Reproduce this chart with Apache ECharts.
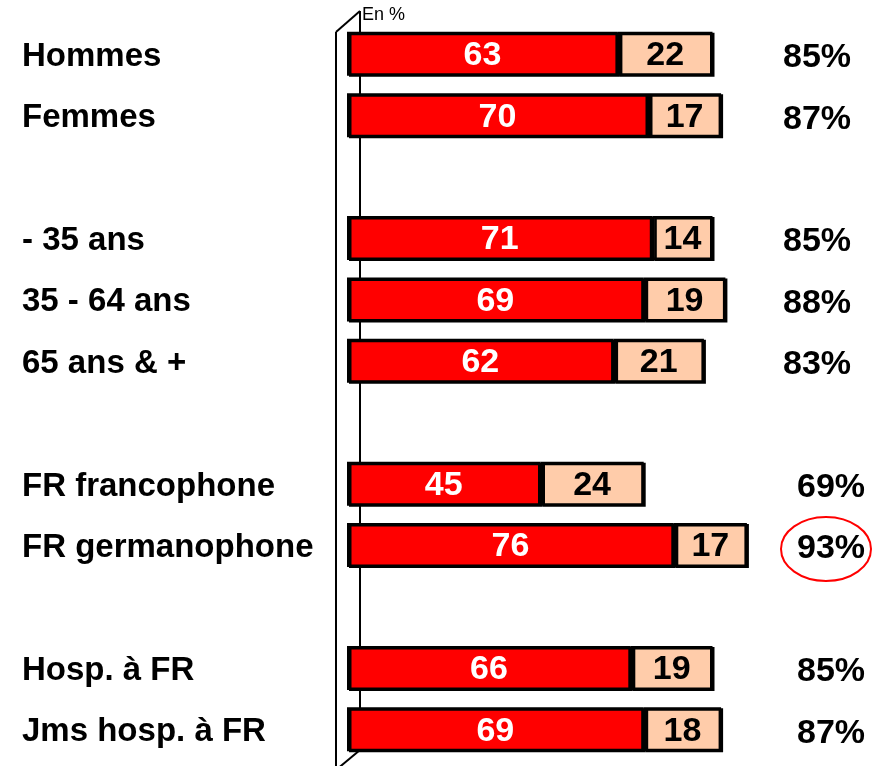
<!DOCTYPE html>
<html>
<head>
<meta charset="utf-8">
<script src="https://cdn.jsdelivr.net/npm/echarts@6/dist/echarts.min.js"></script>
<style>
  html, body { margin: 0; padding: 0; background: #fff; }
  #main { width: 873px; height: 766px; }
</style>
</head>
<body>
<div id="main"></div>
<script>
// groupes (les chaines vides sont des espaces entre les blocs)
var categories = ["Hommes", "Femmes", " ", "- 35 ans", "35 - 64 ans", "65 ans & +", "  ",
  "FR francophone", "FR germanophone", "   ", "Hosp. à FR", "Jms hosp. à FR"];
var tresValues = [63, 70, null, 71, 69, 62, null, 45, 76, null, 66, 69];
var assezValues = [22, 17, null, 14, 19, 21, null, 24, 17, null, 19, 18];
var totalValues = [85, 87, null, 85, 88, 83, null, 69, 93, null, 85, 87];
var highlightCat = "FR germanophone";

var FONT = "'Liberation Sans', Arial, sans-serif";

var chart = echarts.init(document.getElementById("main"));

var barStyle = function (color) {
  return {
    color: color,
    borderColor: "#000",
    borderWidth: 2.5,
    shadowColor: "#000",
    shadowBlur: 0,
    shadowOffsetX: 2,
    shadowOffsetY: 1
  };
};

var barLabel = function (color) {
  return {
    show: true,
    position: "inside",
    offset: [0, 2],
    color: color,
    fontFamily: FONT,
    fontWeight: "bold",
    fontSize: 34
  };
};

chart.setOption({
  backgroundColor: "#FFFFFF",
  animation: false,
  grid: {
    left: 347,
    width: 430,
    top: 23,
    height: 737
  },
  xAxis: {
    type: "value",
    min: 0,
    max: 100,
    show: false
  },
  yAxis: [{
    type: "category",
    inverse: true,
    data: categories,
    axisLine: { show: false },
    axisTick: { show: false },
    axisLabel: {
      align: "left",
      margin: 325,
      formatter: function (v) {
        return v.trim() ? "{l|" + v + "}" : "";
      },
      rich: {
        l: { fontFamily: FONT, fontWeight: "bold", fontSize: 33, color: "#000", padding: [6, 0, 0, 0] }
      }
    }
  }, {
    type: "category",
    inverse: true,
    position: "right",
    data: categories,
    axisLine: { show: false },
    axisTick: { show: false },
    axisLabel: {
      align: "left",
      margin: 6,
      formatter: function (v, i) {
        if (totalValues[i] == null) return "";
        return (i < 6 ? "{a|" : "{b|") + totalValues[i] + "%}";
      },
      rich: {
        a: { fontFamily: FONT, fontWeight: "bold", fontSize: 34, color: "#000", padding: [8, 0, 0, 0] },
        b: { fontFamily: FONT, fontWeight: "bold", fontSize: 34, color: "#000", padding: [8, 0, 0, 14] }
      }
    }
  }],
  series: [{
    name: "Tres",
    type: "bar",
    stack: "total",
    barWidth: 44,
    data: tresValues,
    itemStyle: barStyle("#FF0000"),
    label: barLabel("#FFFFFF")
  }, {
    name: "Assez",
    type: "bar",
    stack: "total",
    barWidth: 44,
    data: assezValues,
    itemStyle: barStyle("#FFCCAA"),
    label: barLabel("#000000")
  }]
});

// cadre 3D de l'axe + note + ellipse de mise en evidence
var hy = chart.convertToPixel({ yAxisIndex: 0 }, highlightCat);
chart.setOption({
  graphic: [
    { type: "line", z: -1, shape: { x1: 336, y1: 32, x2: 336, y2: 770 }, style: { stroke: "#000", lineWidth: 2 } },
    { type: "line", z: -1, shape: { x1: 360, y1: 11, x2: 360, y2: 750 }, style: { stroke: "#000", lineWidth: 2 } },
    { type: "line", z: -1, shape: { x1: 336, y1: 32, x2: 360, y2: 11 }, style: { stroke: "#000", lineWidth: 2 } },
    { type: "line", z: -1, shape: { x1: 336, y1: 770, x2: 360, y2: 750 }, style: { stroke: "#000", lineWidth: 2 } },
    { type: "text", left: 362, top: 6, style: { text: "En %", fontFamily: FONT, fontSize: 18, fill: "#000" } },
    { type: "ellipse", shape: { cx: 826, cy: hy + 4, rx: 45, ry: 32 }, style: { fill: "none", stroke: "#FF0000", lineWidth: 2 } }
  ]
});
</script>
</body>
</html>
